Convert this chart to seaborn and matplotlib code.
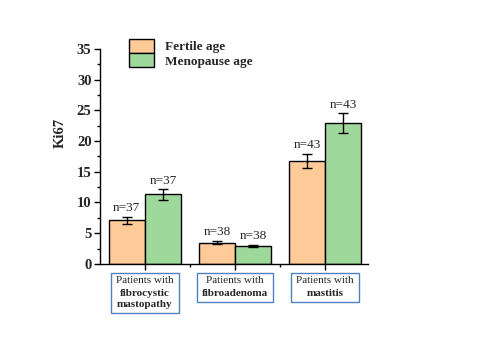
import matplotlib
matplotlib.use("Agg")
import matplotlib.pyplot as plt
import matplotlib.transforms as mtransforms
from matplotlib.patches import Rectangle
from matplotlib.ticker import MultipleLocator, FixedLocator
import seaborn as sns
import pandas as pd

# data
groups = ["fibrocystic mastopathy", "fibroadenoma", "mastitis"]
ages = ["Fertile age", "Menopause age"]
fertile_mean = [7.1, 3.45, 16.8]
fertile_err = [0.55, 0.25, 1.15]
meno_mean = [11.3, 2.9, 22.9]
meno_err = [0.85, 0.2, 1.6]
n_fertile = ["n=37", "n=38", "n=43"]
n_meno = ["n=37", "n=38", "n=43"]
box_top = ["Patients with", "Patients with", "Patients with"]
box_bold = ["fibrocystic\nmastopathy", "fibroadenoma", "mastitis"]

df = pd.DataFrame({
    "group": groups * 2,
    "age": [ages[0]] * 3 + [ages[1]] * 3,
    "ki67": fertile_mean + meno_mean,
})

sns.set_style("white")
plt.rcParams["font.family"] = ["Liberation Serif", "DejaVu Serif"]

fig = plt.figure(figsize=(4.8, 3.6), dpi=100)
ax = fig.add_axes([0.208, 0.267, 0.559, 0.597])

palette = {"Fertile age": "#fdca98", "Menopause age": "#9fd89b"}
sns.barplot(data=df, x="group", y="ki67", hue="age", order=groups,
            hue_order=ages, palette=palette, errorbar=None, width=0.8,
            edgecolor="black", linewidth=1.0, saturation=1, ax=ax)

# error bars and n labels
for i in range(len(groups)):
    for off, m, e, lab in [(-0.2, fertile_mean[i], fertile_err[i], n_fertile[i]),
                           (0.2, meno_mean[i], meno_err[i], n_meno[i])]:
        ax.errorbar(i + off, m, yerr=e, color="black", capsize=3.5,
                    elinewidth=1.0, capthick=1.0)
        ax.text(i + off, m + e + 0.45, lab, ha="center", va="bottom",
                fontsize=9.5)

ax.set_xlim(-0.5, 2.48)
ax.set_ylim(0, 35)
ax.yaxis.set_major_locator(MultipleLocator(5))
ax.yaxis.set_minor_locator(MultipleLocator(2.5))
ax.xaxis.set_minor_locator(FixedLocator([0.5, 1.5, 2.5]))
ax.set_xticks([0, 1, 2])
ax.set_xticklabels([])
ax.tick_params(axis="both", which="both", direction="out", length=4,
               width=1, color="black", bottom=True, left=True, pad=2)
ax.tick_params(axis="both", which="minor", length=2.5)
for lab in ax.get_yticklabels():
    lab.set_fontweight("bold")
    lab.set_fontsize(10.5)
sns.despine(ax=ax)
for s in ["left", "bottom"]:
    ax.spines[s].set_color("black")
    ax.spines[s].set_linewidth(1.0)

ax.set_xlabel("")
ax.set_ylabel("Ki67", fontsize=10.5, fontweight="bold")
ax.yaxis.set_label_coords(-0.125, 0.61)

# boxed group labels under the axis
trans = mtransforms.blended_transform_factory(ax.transData, fig.transFigure)
fs = 8
pairs = []
for i in range(len(groups)):
    t1 = ax.text(i, 0.232, box_top[i], transform=trans, ha="center",
                 va="top", fontsize=fs)
    t2 = ax.annotate(box_bold[i], xy=(i, 0.232), xycoords=trans,
                     xytext=(0, -9), textcoords="offset points",
                     ha="center", va="top", fontsize=fs, fontweight="bold",
                     linespacing=1.35)
    pairs.append((t1, t2))

fig.canvas.draw()
r = fig.canvas.get_renderer()
W, H = fig.bbox.width, fig.bbox.height
for t1, t2 in pairs:
    b1 = t1.get_window_extent(r)
    b2 = t2.get_window_extent(r)
    x0 = min(b1.x0, b2.x0) - 5
    x1 = max(b1.x1, b2.x1) + 5
    y0 = min(b1.y0, b2.y0) - 4
    y1 = max(b1.y1, b2.y1) + 3
    fig.patches.append(Rectangle((x0 / W, y0 / H), (x1 - x0) / W,
                                 (y1 - y0) / H, transform=fig.transFigure,
                                 fill=False, ec="#4f81bd", lw=1.0))

leg = ax.legend(loc="upper left", bbox_to_anchor=(0.09, 1.072), frameon=False,
                prop={"weight": "bold", "size": 9.5}, handlelength=1.9,
                handleheight=1.25, labelspacing=0.0, handletextpad=0.8,
                borderaxespad=0)
for h in leg.legend_handles:
    h.set_edgecolor("black")
    h.set_linewidth(1.0)

fig.savefig("out.png", dpi=100)
